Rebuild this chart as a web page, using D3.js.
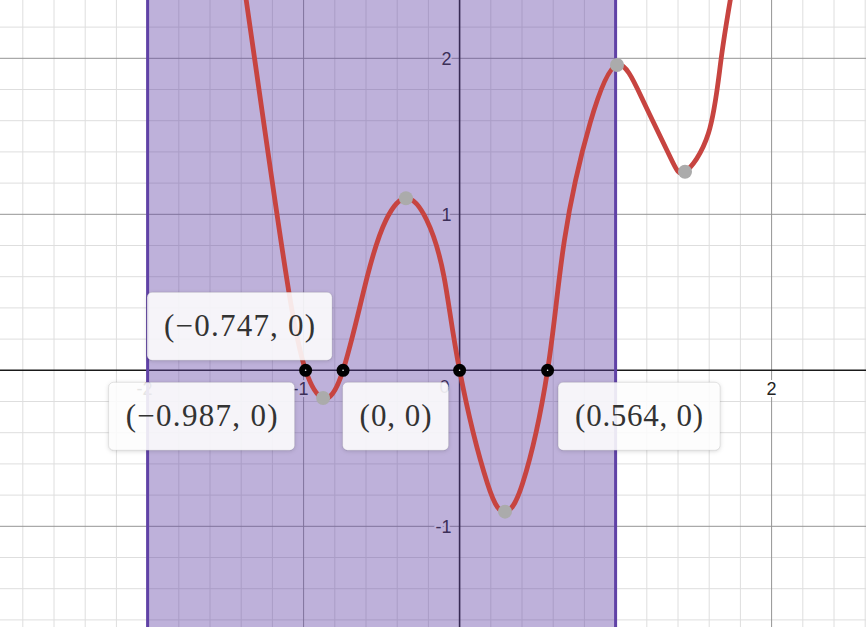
<!DOCTYPE html>
<html>
<head>
<meta charset="utf-8">
<script src="https://cdn.jsdelivr.net/npm/d3@7"></script>
<style>
html,body{margin:0;padding:0;background:#fff;}
svg{display:block;}
</style>
</head>
<body>
<svg id="chart" width="866" height="627"></svg>
<script>
// ---- data ----
const curveX = [-1.40, -1.368, -1.243, -1.094, -0.987, -0.875, -0.747, -0.592, -0.472, -0.344, -0.211, -0.1, 0, 0.178, 0.291, 0.404, 0.564, 0.672, 0.836, 1.009, 1.174, 1.349, 1.445, 1.595, 1.677, 1.75];
const curveY = [2.6, 2.374, 1.5, 0.5, 0, -0.178, 0, 0.6, 0.963, 1.103, 0.963, 0.6, 0, -0.724, -0.906, -0.724, 0, 0.835, 1.583, 1.957, 1.733, 1.369, 1.273, 1.519, 2.0, 2.46];
const rootX = [-0.987, -0.747, 0, 0.564];
const rootLabels = ["(\u22120.987, 0)", "(\u22120.747, 0)", "(0, 0)", "(0.564, 0)"];
const extremaX = [-0.875, -0.344, 0.291, 1.009, 1.445];
const extremaY = [-0.178, 1.103, -0.906, 1.957, 1.273];
const shadeFrom = -2, shadeTo = 1;
const xTickValues = [-2, -1, 2];
const xTickLabels = ["-2", "-1", "2"];
const yTickValues = [-1, 1, 2];
const yTickLabels = ["-1", "1", "2"];
const originLabel = "0";

// ---- layout ----
const W = 866, H = 627;
const x0px = 459.6, y0px = 370.3, unit = 156;
const x = d3.scaleLinear().domain([-x0px / unit, (W - x0px) / unit]).range([0, W]);
const y = d3.scaleLinear().domain([(y0px - H) / unit, y0px / unit]).range([H, 0]);

const svg = d3.select("#chart");
const defs = svg.append("defs");
const f = defs.append("filter").attr("id", "shadow").attr("x", "-20%").attr("y", "-30%").attr("width", "140%").attr("height", "160%");
f.append("feDropShadow").attr("dx", 0).attr("dy", 1).attr("stdDeviation", 2.2).attr("flood-color", "#000").attr("flood-opacity", 0.18);
defs.append("clipPath").attr("id", "clip").append("rect").attr("width", W).attr("height", H);

// grid
const [xa, xb] = x.domain(), [ya, yb] = y.domain();
const minorX = d3.range(Math.ceil(xa * 5), Math.floor(xb * 5) + 1).filter(k => k % 5 !== 0).map(k => k / 5);
const minorY = d3.range(Math.ceil(ya * 5), Math.floor(yb * 5) + 1).filter(k => k % 5 !== 0).map(k => k / 5);
const majorX = d3.range(Math.ceil(xa), Math.floor(xb) + 1).filter(v => v !== 0);
const majorY = d3.range(Math.ceil(ya), Math.floor(yb) + 1).filter(v => v !== 0);

const grid = svg.append("g");
grid.selectAll(".mx").data(minorX).join("line").attr("x1", d => x(d)).attr("x2", d => x(d)).attr("y1", 0).attr("y2", H).attr("stroke", "#dedede").attr("stroke-width", 1);
grid.selectAll(".my").data(minorY).join("line").attr("y1", d => y(d)).attr("y2", d => y(d)).attr("x1", 0).attr("x2", W).attr("stroke", "#dedede").attr("stroke-width", 1);
grid.selectAll(".Mx").data(majorX).join("line").attr("x1", d => x(d)).attr("x2", d => x(d)).attr("y1", 0).attr("y2", H).attr("stroke", "#949494").attr("stroke-width", 1);
grid.selectAll(".My").data(majorY).join("line").attr("y1", d => y(d)).attr("y2", d => y(d)).attr("x1", 0).attr("x2", W).attr("stroke", "#949494").attr("stroke-width", 1);

// axes
svg.append("line").attr("x1", x(0)).attr("x2", x(0)).attr("y1", 0).attr("y2", H).attr("stroke", "#1a1a1a").attr("stroke-width", 1.6);
svg.append("line").attr("y1", y(0)).attr("y2", y(0)).attr("x1", 0).attr("x2", W).attr("stroke", "#1a1a1a").attr("stroke-width", 1.6);

// axis tick labels
const lab = svg.append("g").attr("font-family", "'Liberation Sans', Arial, sans-serif").attr("font-size", 18).attr("fill", "#222")
  .attr("stroke", "#fff").attr("stroke-width", 4).attr("stroke-linejoin", "round").attr("paint-order", "stroke");
xTickValues.forEach((v, i) => {
  const neg = v < 0;
  lab.append("text").attr("x", neg ? x(v) + 5 : x(v)).attr("y", y(0) + 24.5)
    .attr("text-anchor", neg ? "end" : "middle").text(xTickLabels[i]);
});
yTickValues.forEach((v, i) => {
  lab.append("text").attr("x", x(0) - 8).attr("y", y(v) + 6.5).attr("text-anchor", "end").text(yTickLabels[i]);
});
lab.append("text").attr("x", x(0) - 10).attr("y", y(0) + 23).attr("text-anchor", "end").text(originLabel);

// shaded region
svg.append("rect").attr("x", x(shadeFrom)).attr("y", 0).attr("width", x(shadeTo) - x(shadeFrom)).attr("height", H)
  .attr("fill", "#6042a6").attr("fill-opacity", 0.41);
[shadeFrom, shadeTo].forEach(v => {
  svg.append("line").attr("x1", x(v)).attr("x2", x(v)).attr("y1", 0).attr("y2", H).attr("stroke", "#6042a6").attr("stroke-width", 3);
});

// curve
const pts = curveX.map((v, i) => [v, curveY[i]]);
const line = d3.line().x(d => x(d[0])).y(d => y(d[1])).curve(d3.curveNatural);
svg.append("path").attr("clip-path", "url(#clip)").attr("d", line(pts)).attr("fill", "none")
  .attr("stroke", "#c74440").attr("stroke-width", 4.8).attr("stroke-linejoin", "round").attr("stroke-linecap", "round");

// extrema points
svg.selectAll(".ext").data(extremaX.map((v, i) => [v, extremaY[i]])).join("circle")
  .attr("cx", d => x(d[0])).attr("cy", d => y(d[1])).attr("r", 7).attr("fill", "#ababab");

// roots
svg.selectAll(".root").data(rootX).join("circle")
  .attr("cx", d => x(d)).attr("cy", y(0)).attr("r", 6.5).attr("fill", "#000");
svg.selectAll(".rootc").data(rootX).join("circle")
  .attr("cx", d => x(d)).attr("cy", y(0)).attr("r", 0.8).attr("fill", "#fff");

// root label boxes
const placement = [["left", "below"], ["left", "above"], ["left", "below"], ["right", "below"]];
const textW = [152, 151, 72, 128];
const boxG = svg.append("g");
rootX.forEach((v, i) => {
  const bw = textW[i] + 34, bh = 68;
  const px = x(v), py = y(0);
  const bx = placement[i][0] === "left" ? px - 11 - bw : px + 10.5;
  const by = placement[i][1] === "above" ? py - 10 - bh : py + 12;
  boxG.append("rect").attr("x", bx).attr("y", by).attr("width", bw).attr("height", bh).attr("rx", 5)
    .attr("fill", "#fff").attr("fill-opacity", 0.87).attr("stroke", "rgba(0,0,0,0.10)").attr("stroke-width", 1)
    .attr("filter", "url(#shadow)");
  boxG.append("text").attr("x", bx + bw / 2).attr("y", by + 43.5).attr("text-anchor", "middle")
    .attr("font-family", "'Liberation Serif', 'Times New Roman', serif").attr("font-size", 31).attr("fill", "#333")
    .attr("textLength", textW[i]).attr("lengthAdjust", "spacing")
    .text(rootLabels[i]);
});
</script>
</body>
</html>
